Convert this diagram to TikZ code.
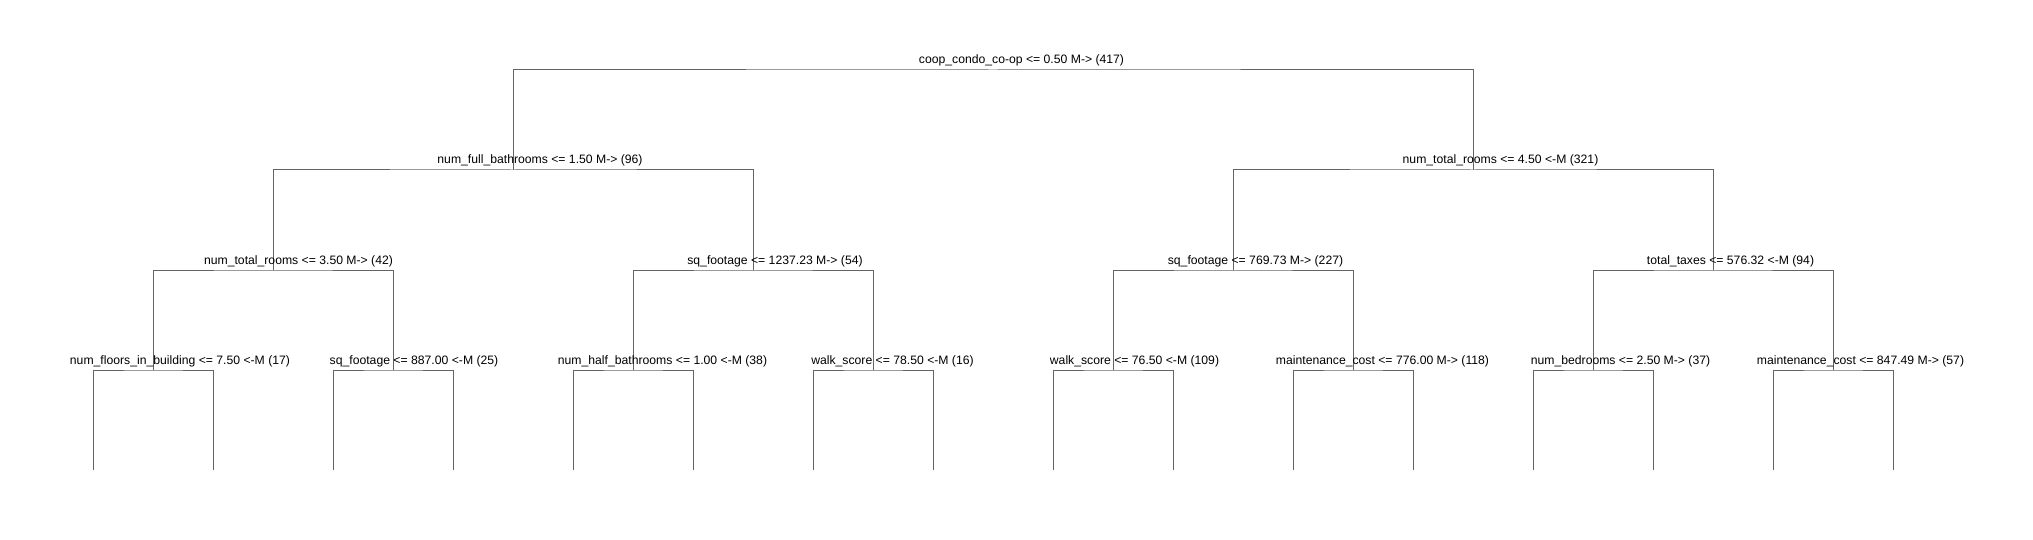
\documentclass[tikz,border=0pt]{standalone}
\usepackage{fontspec}
\setmainfont{Liberation Sans}
\usepackage{tikz}
\usetikzlibrary{positioning}
\definecolor{edgegray}{RGB}{100,100,100}
\tikzset{branch/.style = {draw = edgegray, line width = 1pt},
         split/.style = {anchor = base, inner sep = 0, yshift = 6pt,
                         font = \fontsize{12.2pt}{14pt}\selectfont}}

\begin{document}
\begin{tikzpicture}[x=1pt, y=-1pt]
  \useasboundingbox (0, 0) rectangle (2033, 540);
  % split points
  \coordinate (root) at (993, 70);
  \coordinate (L) at (513, 170);
  \coordinate (R) at (1473, 170);
  \coordinate (LL) at (273, 270);
  \coordinate (LR) at (753, 270);
  \coordinate (RL) at (1233, 270);
  \coordinate (RR) at (1713, 270);
  \coordinate (LLL) at (153, 370);
  \coordinate (LLR) at (393, 370);
  \coordinate (LRL) at (633, 370);
  \coordinate (LRR) at (873, 370);
  \coordinate (RLL) at (1113, 370);
  \coordinate (RLR) at (1353, 370);
  \coordinate (RRL) at (1593, 370);
  \coordinate (RRR) at (1833, 370);
  % leaf ends
  \foreach \n/\x in {LLL/153, LLR/393, LRL/633, LRR/873,
                     RLL/1113, RLR/1353, RRL/1593, RRR/1833} {
    \coordinate (\n a) at (\x - 60, 470);
    \coordinate (\n b) at (\x + 60, 470);
  }

  % branches
  \draw [branch] (L) |- (root) -| (R);
  \draw [branch] (LL) |- (L) -| (LR);
  \draw [branch] (RL) |- (R) -| (RR);
  \draw [branch] (LLL) |- (LL) -| (LLR);
  \draw [branch] (LRL) |- (LR) -| (LRR);
  \draw [branch] (RLL) |- (RL) -| (RLR);
  \draw [branch] (RRL) |- (RR) -| (RRR);
  \foreach \n in {LLL, LLR, LRL, LRR, RLL, RLR, RRL, RRR}
    \draw [branch] (\n a) |- (\n) -| (\n b);

  % labels
  \node [split, xshift = 28.5pt] (tRoot) at (root) {coop\_condo\_co-op <= 0.50 M-> (417)};
  \node [split, xshift = 27pt] (tL) at (L) {num\_full\_bathrooms <= 1.50 M-> (96)};
  \node [split, xshift = 27.5pt] (tR) at (R) {num\_total\_rooms <= 4.50 <-M (321)};
  \node [split, xshift = 25.5pt] (tLL) at (LL) {num\_total\_rooms <= 3.50 M-> (42)};
  \node [split, xshift = 22pt] (tLR) at (LR) {sq\_footage <= 1237.23 M-> (54)};
  \node [split, xshift = 22.5pt] (tRL) at (RL) {sq\_footage <= 769.73 M-> (227)};
  \node [split, xshift = 17.5pt] (tRR) at (RR) {total\_taxes <= 576.32 <-M (94)};
  \node [split, xshift = 27pt] (tLLL) at (LLL) {num\_floors\_in\_building <= 7.50 <-M (17)};
  \node [split, xshift = 21pt] (tLLR) at (LLR) {sq\_footage <= 887.00 <-M (25)};
  \node [split, xshift = 29.5pt] (tLRL) at (LRL) {num\_half\_bathrooms <= 1.00 <-M (38)};
  \node [split, xshift = 19.5pt] (tLRR) at (LRR) {walk\_score <= 78.50 <-M (16)};
  \node [split, xshift = 21.5pt] (tRLL) at (RLL) {walk\_score <= 76.50 <-M (109)};
  \node [split, xshift = 29.5pt] (tRLR) at (RLR) {maintenance\_cost <= 776.00 M-> (118)};
  \node [split, xshift = 27.5pt] (tRRL) at (RRL) {num\_bedrooms <= 2.50 M-> (37)};
  \node [split, xshift = 27.5pt] (tRRR) at (RRR) {maintenance\_cost <= 847.49 M-> (57)};
\end{tikzpicture}
\end{document}
